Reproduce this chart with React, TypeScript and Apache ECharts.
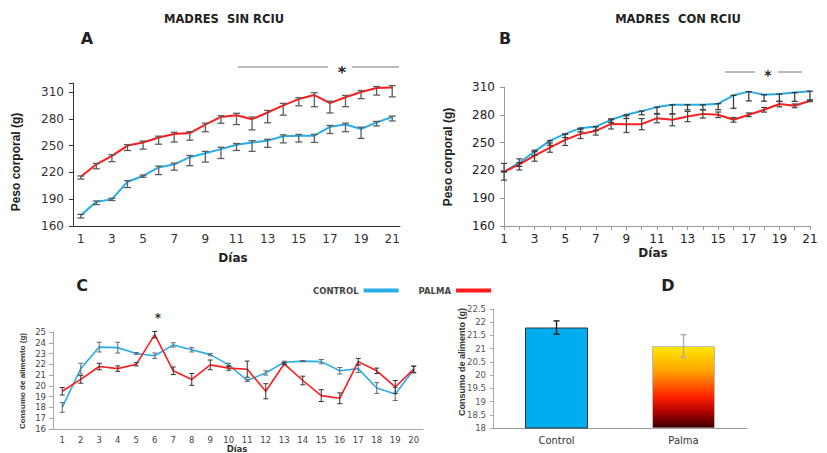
import React, { useEffect, useRef } from 'react';
import * as echarts from 'echarts';

// ---------- DATA ----------
const daysAB = ['1','2','3','4','5','6','7','8','9','10','11','12','13','14','15','16','17','18','19','20','21'];
const daysC = ['1','2','3','4','5','6','7','8','9','10','11','12','13','14','15','16','17','18','19','20'];
const yTicksAB = [160, 190, 220, 250, 280, 310];

// Panel A – madres sin RCIU (peso corporal, g)
const aPalma = [215, 229, 238.5, 250, 253.5, 259, 263, 264, 273.5, 282, 284, 279.5, 287, 295, 302, 306.5, 297.5, 304, 310, 314.5, 315];
const aPalmaErr = [2.5, 5, 6.5, 5.5, 7.5, 7.5, 9, 8, 8, 7, 10.5, 12, 11.5, 11, 7.5, 13, 11, 10.5, 7.5, 8, 10.5];
const aControl = [172, 187, 190, 209.5, 216, 225.5, 229, 237, 241.5, 246, 251, 253.5, 255.5, 260.5, 261, 261, 271, 273.5, 268.5, 276, 282];
const aControlErr = [3, 3, 1.5, 6.5, 1.5, 8, 6.5, 9.5, 10, 10.5, 6.5, 10, 7.5, 7.5, 7, 7.5, 7.5, 8, 10.5, 4, 4.5];

// Panel B – madres con RCIU (peso corporal, g)
const bControl = [218.5, 228.3, 240.2, 252.1, 259.4, 265.6, 267.3, 274.6, 280, 284, 288.3, 290.8, 290.8, 290.8, 292, 301, 305, 301.7, 302.4, 304, 305.5];
const bControlErr = [0, 4, 4, 5, 4, 4, 4, 3, 4, 4, 7.5, 10, 5.5, 5.5, 6.5, 14, 10, 7, 8, 9.5, 10.5];
const bPalma = [218.5, 226.5, 235.9, 244.6, 252.9, 259.4, 262.6, 270.2, 269.9, 269.9, 276.4, 274.6, 278.1, 281, 280, 274.6, 280, 285.4, 291.6, 289.7, 295.2];
const bPalmaErr = [9, 6, 6, 5, 6, 5, 4.5, 5.5, 9, 6, 5, 6.5, 5.5, 4.5, 3, 2.5, 2, 2.5, 3, 2, 1];

// Panel C – consumo de alimento diario (g)
const cControl = [18.0, 21.6, 23.6, 23.55, 23.0, 22.8, 23.8, 23.35, 22.9, 21.95, 20.5, 21.2, 22.2, 22.3, 22.25, 21.4, 21.6, 19.8, 19.25, 21.5];
const cControlErr = [0.45, 0.5, 0.45, 0.5, 0.1, 0.25, 0.2, 0.2, 0.1, 0.15, 0.1, 0.2, 0.1, 0.05, 0.2, 0.3, 0.35, 0.5, 0.6, 0.3];
const cPalma = [19.5, 20.6, 21.8, 21.6, 22.0, 24.75, 21.4, 20.6, 21.95, 21.65, 21.55, 19.5, 22.05, 20.5, 19.1, 18.85, 22.25, 21.4, 19.9, 21.55];
const cPalmaErr = [0.35, 0.35, 0.3, 0.25, 0.15, 0.3, 0.35, 0.55, 0.45, 0.2, 0.75, 0.7, 0.1, 0.4, 0.55, 0.5, 0.3, 0.25, 0.6, 0.3];

// Panel D – consumo promedio (g)
const dGroups = ['Control', 'Palma'];
const dValues = [21.8, 21.1];
const dErr = [0.25, 0.43];

// ---------- STYLE ----------
const BLUE = '#29ADE6';
const RED = '#FF1C1C';
const FONT = 'DejaVu Sans';

function errRender(capW: number, colorFn: (i: number) => string, lw: number) {
  return (params: any, api: any) => {
    const x = api.value(0);
    const lo = api.value(1);
    const hi = api.value(2);
    const pLo = api.coord([x, lo]);
    const pHi = api.coord([x, hi]);
    const style = { stroke: colorFn(params.dataIndex), lineWidth: lw };
    return {
      type: 'group',
      children: [
        { type: 'line', shape: { x1: pLo[0], y1: pLo[1], x2: pHi[0], y2: pHi[1] }, style },
        { type: 'line', shape: { x1: pLo[0] - capW / 2, y1: pLo[1], x2: pLo[0] + capW / 2, y2: pLo[1] }, style },
        { type: 'line', shape: { x1: pHi[0] - capW / 2, y1: pHi[1], x2: pHi[0] + capW / 2, y2: pHi[1] }, style },
      ],
    };
  };
}

function errSeries(grid: number, data: number[][], capW: number, colorFn: (i: number) => string, lw = 1.2) {
  return {
    type: 'custom',
    xAxisIndex: grid,
    yAxisIndex: grid,
    renderItem: errRender(capW, colorFn, lw),
    data,
    encode: { x: 0, y: [1, 2] },
    z: 5,
    silent: true,
  };
}

function txt(text: string, x: number, y: number, size: number, opts: any = {}) {
  return {
    type: 'text',
    x,
    y,
    rotation: opts.rotation || 0,
    style: {
      text,
      fontFamily: opts.family || FONT,
      fontSize: size,
      fontWeight: opts.weight || 'bold',
      fill: opts.color || '#222',
      align: 'center',
      verticalAlign: 'middle',
    },
  };
}

function hline(x1: number, x2: number, y: number) {
  return { type: 'line', shape: { x1, y1: y, x2, y2: y }, style: { stroke: '#777', lineWidth: 1 } };
}

export default function App() {
  const ref = useRef<HTMLDivElement>(null);

  useEffect(() => {
    if (!ref.current) return;
    const chart = echarts.init(ref.current, undefined, { renderer: 'svg' });

    const abYLabel = (color: string) => ({
      fontFamily: FONT,
      fontSize: 12,
      color,
      margin: 9,
      formatter: (v: number) => (yTicksAB.indexOf(v) >= 0 ? String(v) : ''),
    });

    const option: any = {
      animation: false,
      backgroundColor: '#ffffff',
      grid: [
        { left: 73, top: 83, width: 327, height: 143 },
        { left: 504, top: 87, width: 306, height: 139 },
        { left: 53, top: 332, width: 370, height: 97 },
        { left: 493, top: 309, width: 254, height: 119 },
      ],
      legend: {
        data: ['CONTROL', 'PALMA'],
        left: 308,
        top: 281,
        align: 'right',
        icon: 'rect',
        itemWidth: 35,
        itemHeight: 4,
        itemGap: 20,
        selectedMode: false,
        textStyle: { fontFamily: FONT, fontWeight: 'bold', fontSize: 8.5, color: '#444' },
      },
      xAxis: [
        {
          gridIndex: 0, type: 'category', data: daysAB, boundaryGap: true,
          axisLine: { lineStyle: { color: '#333' } },
          axisTick: { interval: 0, length: 4, lineStyle: { color: '#333' } },
          axisLabel: { interval: 1, fontFamily: FONT, fontSize: 12, color: '#333', margin: 7 },
        },
        {
          gridIndex: 1, type: 'category', data: daysAB, boundaryGap: false,
          axisLine: { lineStyle: { color: '#999' } },
          axisTick: { interval: 0, length: 4, lineStyle: { color: '#999' } },
          axisLabel: { interval: 1, fontFamily: FONT, fontSize: 12, color: '#222', margin: 7 },
        },
        {
          gridIndex: 2, type: 'category', data: daysC, boundaryGap: true,
          axisLine: { lineStyle: { color: '#aaa' } },
          axisTick: { interval: 0, length: 3, lineStyle: { color: '#aaa' } },
          axisLabel: { interval: 0, fontFamily: FONT, fontSize: 8.5, color: '#444', margin: 6 },
        },
        {
          gridIndex: 3, type: 'category', data: dGroups, boundaryGap: true,
          axisLine: { lineStyle: { color: '#999' } },
          axisTick: { interval: 0, length: 3, lineStyle: { color: '#999' } },
          axisLabel: { fontFamily: FONT, fontSize: 10, color: '#333', margin: 7 },
        },
      ],
      yAxis: [
        {
          gridIndex: 0, type: 'value', min: 160, max: 320, interval: 30,
          axisLine: { show: true, lineStyle: { color: '#333' } },
          axisTick: { show: true, length: 4, lineStyle: { color: '#333' } },
          splitLine: { show: false },
          axisLabel: abYLabel('#333'),
        },
        {
          gridIndex: 1, type: 'value', min: 160, max: 310, interval: 30,
          axisLine: { show: true, lineStyle: { color: '#999' } },
          axisTick: { show: true, length: 4, lineStyle: { color: '#999' } },
          splitLine: { show: false },
          axisLabel: abYLabel('#222'),
        },
        {
          gridIndex: 2, type: 'value', min: 16, max: 25, interval: 1,
          axisLine: { show: true, lineStyle: { color: '#aaa' } },
          axisTick: { show: true, length: 4, lineStyle: { color: '#aaa' } },
          splitLine: { show: false },
          axisLabel: { fontFamily: FONT, fontSize: 8.5, color: '#444', margin: 7 },
        },
        {
          gridIndex: 3, type: 'value', min: 18, max: 22.5, interval: 0.5,
          axisLine: { show: true, lineStyle: { color: '#aaa' } },
          axisTick: { show: true, length: 3, lineStyle: { color: '#aaa' } },
          splitLine: { show: false },
          axisLabel: { fontFamily: FONT, fontSize: 8.5, color: '#555', margin: 7 },
        },
      ],
      series: [
        // Panel A
        { name: 'PALMA', type: 'line', xAxisIndex: 0, yAxisIndex: 0, data: aPalma, symbol: 'none', lineStyle: { color: RED, width: 2 }, itemStyle: { color: RED }, z: 3 },
        { name: 'CONTROL', type: 'line', xAxisIndex: 0, yAxisIndex: 0, data: aControl, symbol: 'none', lineStyle: { color: BLUE, width: 2 }, itemStyle: { color: BLUE }, z: 3 },
        errSeries(0, aPalma.map((v, i) => [i, v - aPalmaErr[i], v + Math.max(1, aPalmaErr[i] * 0.2)]), 7, () => '#5c5c5c', 1.3),
        errSeries(0, aControl.map((v, i) => [i, v - aControlErr[i], v + Math.max(1, aControlErr[i] * 0.2)]), 7, () => '#5c5c5c', 1.3),
        // Panel B
        { name: 'CONTROL', type: 'line', xAxisIndex: 1, yAxisIndex: 1, data: bControl, symbol: 'none', lineStyle: { color: BLUE, width: 2 }, itemStyle: { color: BLUE }, z: 3 },
        { name: 'PALMA', type: 'line', xAxisIndex: 1, yAxisIndex: 1, data: bPalma, symbol: 'none', lineStyle: { color: RED, width: 2 }, itemStyle: { color: RED }, z: 3 },
        errSeries(1, bControl.map((v, i) => [i, v - bControlErr[i], v]), 6, () => '#333', 1.2),
        errSeries(1, bPalma.map((v, i) => [i, v - bPalmaErr[i], v + bPalmaErr[i]]), 6, () => '#444', 1.2),
        // Panel C
        { name: 'CONTROL', type: 'line', xAxisIndex: 2, yAxisIndex: 2, data: cControl, symbol: 'none', lineStyle: { color: BLUE, width: 1.6 }, itemStyle: { color: BLUE }, z: 3 },
        { name: 'PALMA', type: 'line', xAxisIndex: 2, yAxisIndex: 2, data: cPalma, symbol: 'none', lineStyle: { color: RED, width: 1.6 }, itemStyle: { color: RED }, z: 3 },
        errSeries(2, cControl.map((v, i) => [i, v - cControlErr[i], v + cControlErr[i]]), 5, () => '#666', 1),
        errSeries(2, cPalma.map((v, i) => [i, v - cPalmaErr[i], v + cPalmaErr[i]]), 5, () => '#333', 1),
        // Panel D
        {
          name: 'Consumo', type: 'bar', xAxisIndex: 3, yAxisIndex: 3, barWidth: 63,
          data: [
            { value: dValues[0], itemStyle: { color: '#00AEEF', borderColor: '#333', borderWidth: 1 } },
            {
              value: dValues[1],
              itemStyle: {
                color: new echarts.graphic.LinearGradient(0, 0, 0, 1, [
                  { offset: 0, color: '#FFEA00' },
                  { offset: 0.3, color: '#FFA200' },
                  { offset: 0.62, color: '#FF2200' },
                  { offset: 0.8, color: '#B00000' },
                  { offset: 1, color: '#3A0000' },
                ]),
                borderColor: '#bbb', borderWidth: 1,
              },
            },
          ],
        },
        errSeries(3, dValues.map((v, i) => [i, v - dErr[i], v + dErr[i]]), 6, (i) => (i === 0 ? '#111' : '#aaa'), 1.3),
      ],
      graphic: [
        // titles
        txt('MADRES  SIN RCIU', 224, 19, 11.5),
        txt('MADRES  CON RCIU', 678, 19, 11.5),
        txt('A', 87, 38, 16),
        txt('B', 505, 38, 16),
        txt('C', 82, 285, 16),
        txt('D', 668, 285, 16),
        // axis names
        txt('Peso corporal (g)', 16, 162, 12, { rotation: Math.PI / 2, family: 'Liberation Sans' }),
        txt('Peso corporal (g)', 448, 157, 12, { rotation: Math.PI / 2, family: 'Liberation Sans' }),
        txt('Días', 233, 258, 12),
        txt('Días', 653, 253, 12),
        txt('Consumo de alimento (g)', 22, 381, 8, { rotation: Math.PI / 2, family: 'Liberation Sans', color: '#333' }),
        txt('Consumo de alimento (g)', 462, 362, 9, { rotation: Math.PI / 2, family: 'Liberation Sans', color: '#333' }),
        txt('Días', 237, 449, 8.5, { color: '#333' }),
        // significance marks
        hline(238, 328, 67),
        txt('*', 342, 72, 16),
        hline(352, 399, 67),
        hline(725, 755, 72),
        txt('*', 768, 75, 14),
        hline(778, 802, 72),
        txt('*', 158, 318, 12, { color: '#333' }),
      ],
    };

    chart.setOption(option);
    return () => chart.dispose();
  }, []);

  return (
    <div
      ref={ref}
      style={{ position: 'absolute', left: 0, top: 0, width: 827, height: 453, background: '#fff' }}
    />
  );
}
